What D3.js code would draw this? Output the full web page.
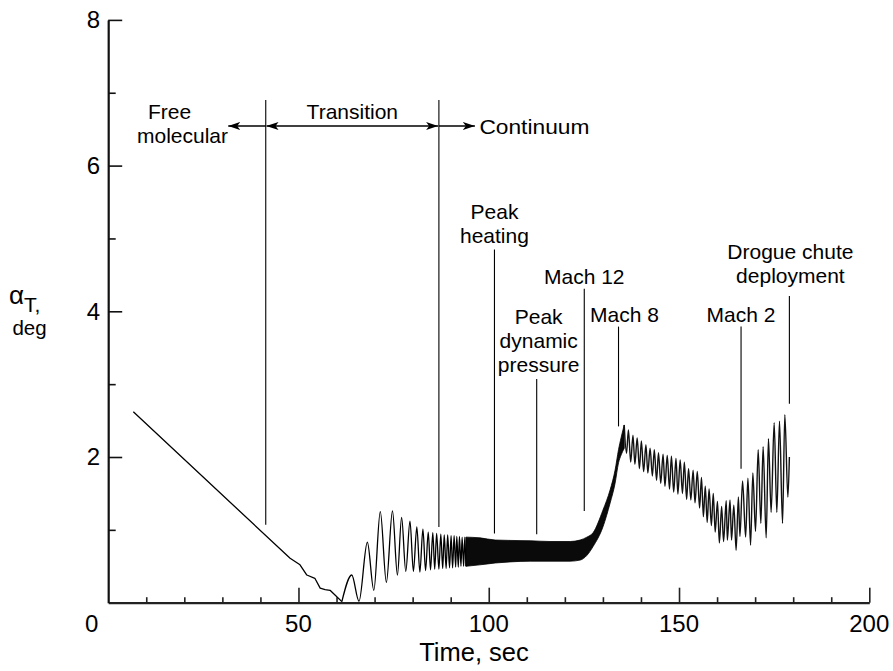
<!DOCTYPE html>
<html>
<head>
<meta charset="utf-8">
<script src="https://cdn.jsdelivr.net/npm/d3@7"></script>
<style>
  html, body { margin: 0; padding: 0; background: #fff; }
  svg { display: block; font-family: "Liberation Sans", Arial, Helvetica, sans-serif; }
</style>
</head>
<body>
<svg id="chart" width="893" height="671"></svg>
<script>
// Total angle of attack (deg) versus time from entry interface (sec)

const xTickLabels = [0, 50, 100, 150, 200];
const yTickLabels = [2, 4, 6, 8];

// Coning decay through the rarefied flow (time, alpha)
const decayTime  = [6.6, 47.8, 50.4, 52.2, 54.3, 55.7, 57.0, 58.3, 59.6, 61.4];
const decayAlpha = [2.62, 0.61, 0.52, 0.38, 0.335, 0.20, 0.18, 0.17, 0.105, 0.015];

// Oscillation peaks and troughs as the vehicle enters transitional flow
const transTime = [64.0, 65.9, 68.1, 69.8, 71.5, 73.1, 74.7, 76.0, 77.1, 78.2,
                   79.3, 80.2, 81.1, 81.9, 82.7, 83.4, 84.1, 84.7, 85.3, 85.8,
                   86.3, 86.9, 87.4, 87.9, 88.3, 88.8, 89.2, 89.7, 90.1, 90.5,
                   90.9, 91.3, 91.6, 92.0, 92.3, 92.7, 93.0, 93.4, 93.7, 94.0];
const transAlpha = [0.38, 0.02, 0.83, 0.17, 1.25, 0.28, 1.26, 0.38, 1.17, 0.43,
                    1.12, 0.43, 1.04, 0.42, 1.01, 0.44, 0.97, 0.45, 0.96, 0.46,
                    0.95, 0.46, 0.94, 0.47, 0.93, 0.47, 0.93, 0.48, 0.92, 0.48,
                    0.92, 0.49, 0.91, 0.49, 0.91, 0.50, 0.90, 0.50, 0.90, 0.50];

// High-frequency continuum oscillation: upper and lower envelope
const bandTime  = [94.0, 97.7, 101.7, 105.6, 110.9, 116.1, 121.4, 124.0, 125.8, 127.4, 130.0, 131.9, 133.2, 134.1, 134.8, 135.6];
const bandUpper = [0.90, 0.89, 0.86, 0.855, 0.85, 0.84, 0.84, 0.86, 0.90, 0.96, 1.27, 1.55, 1.82, 2.10, 2.27, 2.44];
const bandLower = [0.50, 0.52, 0.545, 0.56, 0.57, 0.57, 0.57, 0.585, 0.65, 0.77, 1.04, 1.37, 1.64, 1.92, 2.03, 2.12];

// Oscillation peaks and troughs from Mach 8 down to drogue deployment
const lateTime = [135.6, 136.2, 136.7, 137.3, 137.9, 138.4, 139.0, 139.6, 140.1, 140.7,
                  141.3, 141.8, 142.4, 143.0, 143.5, 144.1, 144.6, 145.2, 145.8, 146.3,
                  146.9, 147.5, 148.0, 148.6, 149.2, 149.7, 150.3, 150.9, 151.4, 152.0,
                  152.5, 153.1, 153.7, 154.2, 154.8, 155.4, 155.9, 156.4, 156.9, 157.4,
                  157.9, 158.5, 159.0, 159.5, 160.1, 160.6, 161.2, 161.7, 162.4, 162.7,
                  163.4, 163.8, 164.4, 165.0, 165.6, 166.0, 166.7, 167.5, 168.1, 168.8,
                  169.4, 170.1, 170.8, 171.5, 172.1, 172.9, 173.5, 174.2, 175.0, 175.7,
                  176.4, 177.2, 177.8, 178.6, 179.0];
const lateAlpha = [2.44, 2.05, 2.37, 1.93, 2.30, 1.90, 2.26, 1.84, 2.22, 1.80,
                   2.17, 1.78, 2.12, 1.74, 2.10, 1.68, 2.06, 1.64, 2.04, 1.60,
                   2.02, 1.56, 2.01, 1.52, 1.98, 1.49, 1.96, 1.50, 1.93, 1.42,
                   1.84, 1.41, 1.82, 1.37, 1.80, 1.30, 1.72, 1.18, 1.60, 1.10,
                   1.56, 1.06, 1.50, 0.97, 1.39, 0.82, 1.32, 0.84, 1.40, 0.86,
                   1.41, 0.86, 1.34, 0.72, 1.45, 0.91, 1.67, 0.90, 1.71, 0.79,
                   1.78, 0.98, 2.10, 1.09, 2.14, 0.89, 2.25, 1.24, 2.47, 1.24,
                   2.49, 1.09, 2.58, 1.45, 2.00];

// Flow regime boundaries (sec)
const regimeTimes = [41.4, 86.9];

// Trajectory events
const eventNames = [["Peak", "heating"], ["Peak", "dynamic", "pressure"], ["Mach 12"],
                    ["Mach 8"], ["Mach 2"], ["Drogue chute", "deployment"]];
const eventTimes = [101.5, 112.6, 125.1, 134.1, 166.3, 179.0];

// ---------------------------------------------------------------------------

const svg = d3.select("#chart");
const x = d3.scaleLinear().domain([0, 200]).range([108.2, 869.3]);
const y = d3.scaleLinear().domain([0, 8]).range([602.7, 19.9]);

const ink = "#000";
const annFont = 21;

// Axes: ticks point into the plot, long ticks at labelled values
function drawXAxis(values, size, withDomain) {
  const g = svg.append("g")
    .attr("transform", `translate(0,${y(0)})`)
    .call(d3.axisBottom(x).tickValues(values).tickSizeInner(-size).tickSizeOuter(0).tickFormat(""));
  g.selectAll(".tick line").attr("stroke", "#222").attr("stroke-width", 1.6);
  if (withDomain) g.select(".domain").attr("stroke", "#222").attr("stroke-width", 2.2);
  else g.select(".domain").remove();
}
function drawYAxis(values, size, withDomain) {
  const g = svg.append("g")
    .attr("transform", `translate(${x(0)},0)`)
    .call(d3.axisLeft(y).tickValues(values).tickSizeInner(-size).tickSizeOuter(0).tickFormat(""));
  g.selectAll(".tick line").attr("stroke", "#111").attr("stroke-width", 1.6);
  if (withDomain) g.select(".domain").attr("stroke", "#111").attr("stroke-width", 2.2);
  else g.select(".domain").remove();
}
drawXAxis(d3.range(10, 200, 10).filter(v => v % 50 !== 0), 5.5, true);
drawXAxis([50, 100, 150, 200], 15, false);
drawYAxis([1, 3, 5, 7], 7.5, true);
drawYAxis([2, 4, 6, 8], 14, false);

// Tick labels
svg.append("g").selectAll("text").data(xTickLabels).join("text")
  .attr("x", d => d === 0 ? x(d) - 16.5 : x(d))
  .attr("y", 631.5)
  .attr("text-anchor", "middle")
  .attr("font-size", 24)
  .attr("fill", ink)
  .text(d => d);

svg.append("g").selectAll("text").data(yTickLabels).join("text")
  .attr("x", 100)
  .attr("y", d => y(d) + 8.4)
  .attr("text-anchor", "end")
  .attr("font-size", 24)
  .attr("fill", ink)
  .text(d => d);

// Axis titles
svg.append("text")
  .attr("x", 474).attr("y", 661)
  .attr("text-anchor", "middle")
  .attr("font-size", 25.5)
  .attr("fill", ink)
  .text("Time, sec");

const yTitle = svg.append("text")
  .attr("x", 9).attr("y", 304)
  .attr("fill", ink);
yTitle.append("tspan").attr("font-size", 26).text("α");
yTitle.append("tspan").attr("font-size", 21).attr("dy", 8).text("T,");
svg.append("text")
  .attr("x", 29.5).attr("y", 335)
  .attr("text-anchor", "middle")
  .attr("font-size", 20.5)
  .attr("fill", ink)
  .text("deg");

// Flow regime boundaries and arrows
const arrowY = 126;
const defs = svg.append("defs");
defs.append("marker")
  .attr("id", "head")
  .attr("viewBox", "0 0 12 8")
  .attr("refX", 12).attr("refY", 4)
  .attr("markerUnits", "userSpaceOnUse")
  .attr("markerWidth", 12).attr("markerHeight", 8)
  .attr("orient", "auto-start-reverse")
  .append("path")
  .attr("d", "M0,0 L12,4 L0,8 L3,4 Z")
  .attr("fill", ink);

svg.append("g").selectAll("line").data(regimeTimes).join("line")
  .attr("x1", d => x(d)).attr("x2", d => x(d))
  .attr("y1", y(6.9))
  .attr("y2", (d, i) => y(i === 0 ? 1.07 : 1.04))
  .attr("stroke", ink).attr("stroke-width", 1.1);

const arrows = [
  { x1: x(regimeTimes[0]), x2: x(regimeTimes[0]) - 37.5, both: false },
  { x1: x(regimeTimes[0]) + 0.8, x2: x(regimeTimes[1]) - 0.8, both: true },
  { x1: x(regimeTimes[1]), x2: x(regimeTimes[1]) + 36, both: false }
];
svg.append("g").selectAll("line").data(arrows).join("line")
  .attr("x1", d => d.x1).attr("x2", d => d.x2)
  .attr("y1", arrowY).attr("y2", arrowY)
  .attr("stroke", ink).attr("stroke-width", 1.4)
  .attr("marker-end", "url(#head)")
  .attr("marker-start", d => d.both ? "url(#head)" : null);

const regimeText = svg.append("g").attr("font-size", annFont).attr("fill", ink);
regimeText.append("text").attr("x", 148).attr("y", 118.5).text("Free");
regimeText.append("text").attr("x", 137).attr("y", 143).text("molecular");
regimeText.append("text")
  .attr("x", (x(regimeTimes[0]) + x(regimeTimes[1])) / 2).attr("y", 118.5)
  .attr("text-anchor", "middle").text("Transition");
regimeText.append("text").attr("x", x(regimeTimes[1]) + 40.5).attr("y", 133.5)
  .attr("textLength", 110).attr("lengthAdjust", "spacingAndGlyphs").text("Continuum");

// Event leaders and labels
const leaderTop    = [4.85, 3.07, 4.31, 3.79, 3.79, 4.21];
const leaderBottom = [0.95, 0.94, 1.26, 2.42, 1.84, 2.73];
const labelShift   = [0, 2, 0, 6, 0, 1];
const labelGap     = [6, 7, 5, 5, 5, 13];
const lineStep = 24;

eventTimes.forEach((t, i) => {
  svg.append("line")
    .attr("x1", x(t)).attr("x2", x(t))
    .attr("y1", y(leaderTop[i])).attr("y2", y(leaderBottom[i]))
    .attr("stroke", ink).attr("stroke-width", 1.1);
  const lines = eventNames[i];
  const lastBase = y(leaderTop[i]) - labelGap[i];
  svg.append("g").selectAll("text").data(lines).join("text")
    .attr("x", x(t) + labelShift[i])
    .attr("y", (d, k) => lastBase - (lines.length - 1 - k) * lineStep)
    .attr("text-anchor", "middle")
    .attr("font-size", annFont)
    .attr("fill", ink)
    .text(d => d);
});

// Angle of attack history
const straight = d3.line().x(d => x(d[0])).y(d => y(d[1]));
const smooth = d3.line().x(d => x(d[0])).y(d => y(d[1])).curve(d3.curveMonotoneX);

const decay = d3.zip(decayTime, decayAlpha);
svg.append("path")
  .attr("d", straight(decay))
  .attr("fill", "none").attr("stroke", ink)
  .attr("stroke-width", 1.3).attr("stroke-linejoin", "round");

const trans = [decay[decay.length - 1]].concat(d3.zip(transTime, transAlpha));
svg.append("path")
  .attr("d", smooth(trans))
  .attr("fill", "none").attr("stroke", ink)
  .attr("stroke-width", 1.3).attr("stroke-linejoin", "round");

const band = d3.zip(bandTime, bandUpper, bandLower);
svg.append("path")
  .attr("d", d3.area().x(d => x(d[0])).y0(d => y(d[2])).y1(d => y(d[1])).curve(d3.curveMonotoneX)(band))
  .attr("fill", "#0a0a0a").attr("stroke", ink).attr("stroke-width", 0.8);

const late = d3.zip(lateTime, lateAlpha);
svg.append("path")
  .attr("d", smooth(late))
  .attr("fill", "none").attr("stroke", "#111")
  .attr("stroke-width", 1.4).attr("stroke-linejoin", "round");
</script>
</body>
</html>
